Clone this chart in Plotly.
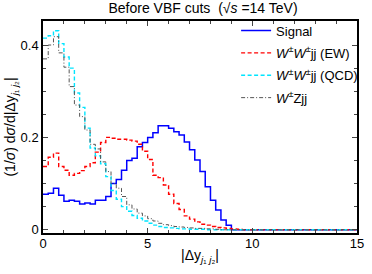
import numpy as np
import plotly.graph_objects as go

bin_width = 0.25
n_bins = 60  # 0..15

signal = [0.077, 0.079, 0.090, 0.075, 0.062, 0.064, 0.062, 0.056, 0.058, 0.056,
          0.064, 0.064, 0.072, 0.100, 0.109, 0.129, 0.150, 0.155, 0.180, 0.189,
          0.200, 0.210, 0.225, 0.225, 0.220, 0.212, 0.205, 0.190, 0.173, 0.151,
          0.126, 0.093, 0.064, 0.043, 0.021, 0.010]
ww_ew = [0.137, 0.157, 0.166, 0.137, 0.129, 0.118, 0.122, 0.128, 0.137, 0.145,
         0.168, 0.189, 0.200, 0.198, 0.196, 0.196, 0.194, 0.192, 0.185, 0.170,
         0.152, 0.118, 0.113, 0.097, 0.077, 0.057, 0.044, 0.030, 0.023, 0.017,
         0.012, 0.010, 0.007, 0.005, 0.004, 0.003, 0.002, 0.001]
ww_qcd = [0.415, 0.420, 0.431, 0.403, 0.374, 0.350, 0.296, 0.265, 0.220, 0.177,
          0.160, 0.143, 0.115, 0.085, 0.066, 0.050, 0.040, 0.031, 0.025, 0.019,
          0.014, 0.010, 0.007, 0.005, 0.004, 0.003, 0.002, 0.002, 0.001, 0.001,
          0.001]
wz = [0.370, 0.400, 0.418, 0.383, 0.352, 0.310, 0.270, 0.245, 0.216, 0.185,
      0.175, 0.147, 0.126, 0.100, 0.090, 0.072, 0.054, 0.045, 0.036, 0.030,
      0.024, 0.019, 0.014, 0.011, 0.009, 0.007, 0.006, 0.005, 0.004, 0.003,
      0.003, 0.002, 0.002, 0.001]

names = ["Signal",
         "<i>W</i><sup>±</sup><i>W</i><sup>±</sup>jj (EW)",
         "<i>W</i><sup>±</sup><i>W</i><sup>±</sup>jj (QCD)",
         "<i>W</i><sup>±</sup>Zjj"]
colors = ["#0000ff", "#ff0000", "#00e5ff", "#555555"]
dashes = ["solid", "4px,2.5px", "4px,2.5px", "4px,2px,1px,2px"]
widths = [1.5, 1.4, 1.4, 1.0]

edges = np.arange(n_bins + 1) * bin_width

fig = go.Figure()
for i, (vals, name, c, d, w) in enumerate(zip([signal, ww_ew, ww_qcd, wz], names, colors, dashes, widths)):
    v = np.zeros(n_bins)
    v[:len(vals)] = vals
    y = np.append(v, v[-1])
    fig.add_trace(go.Scatter(x=edges, y=y, mode="lines", name=name, legendgroup=f"g{i}",
                             line=dict(color=c, dash=d, width=w, shape="hv")))

font = "Liberation Sans, Arial, sans-serif"
fig.update_layout(
    width=372, height=274,
    margin=dict(l=43, r=9, t=21, b=41),
    paper_bgcolor="white", plot_bgcolor="white",
    font=dict(family=font, size=13, color="black"),
    title=dict(text="Before VBF cuts  (√<i>s</i> =14 TeV)",
               x=(43 + 363) / 2 / 372, xanchor="center", y=0.99, yanchor="top",
               font=dict(size=14)),
    showlegend=True,
    legend=dict(x=0.615, y=1.026, xanchor="left", yanchor="top",
                bgcolor="rgba(0,0,0,0)", font=dict(size=13),
                itemwidth=30, tracegroupgap=2.5),
)
fig.update_xaxes(range=[0, 15], tickvals=[0, 5, 10, 15], ticks="inside", ticklen=5,
                 showline=True, linecolor="black", linewidth=1.5, mirror="allticks",
                 showgrid=False, zeroline=False, tickfont=dict(size=13),
                 ticklabeloverflow="allow", ticklabelstandoff=-2,
                 minor=dict(dtick=1, ticks="inside", ticklen=3, showgrid=False),
                 title=dict(text="|Δy<sub><i>j</i>₁ <i>j</i>₂</sub>|", font=dict(size=14), standoff=0))
fig.update_yaxes(range=[-0.007, 0.452], tickvals=[0, 0.2, 0.4], ticktext=["0", "0.2", "0.4"],
                 ticks="inside", ticklen=5,
                 showline=True, linecolor="black", linewidth=1.5, mirror="allticks",
                 showgrid=False, zeroline=False, tickfont=dict(size=13),
                 minor=dict(dtick=0.05, tick0=0, ticks="inside", ticklen=3, showgrid=False),
                 title=dict(text="(1/<i>σ</i>) d<i>σ</i>/d|Δy<sub><i>j</i>₁ <i>j</i>₂</sub>|",
                            font=dict(size=14), standoff=2))

fig.write_html("out.html", config={"displayModeBar": False},
               post_script="document.body.style.margin='0';")
